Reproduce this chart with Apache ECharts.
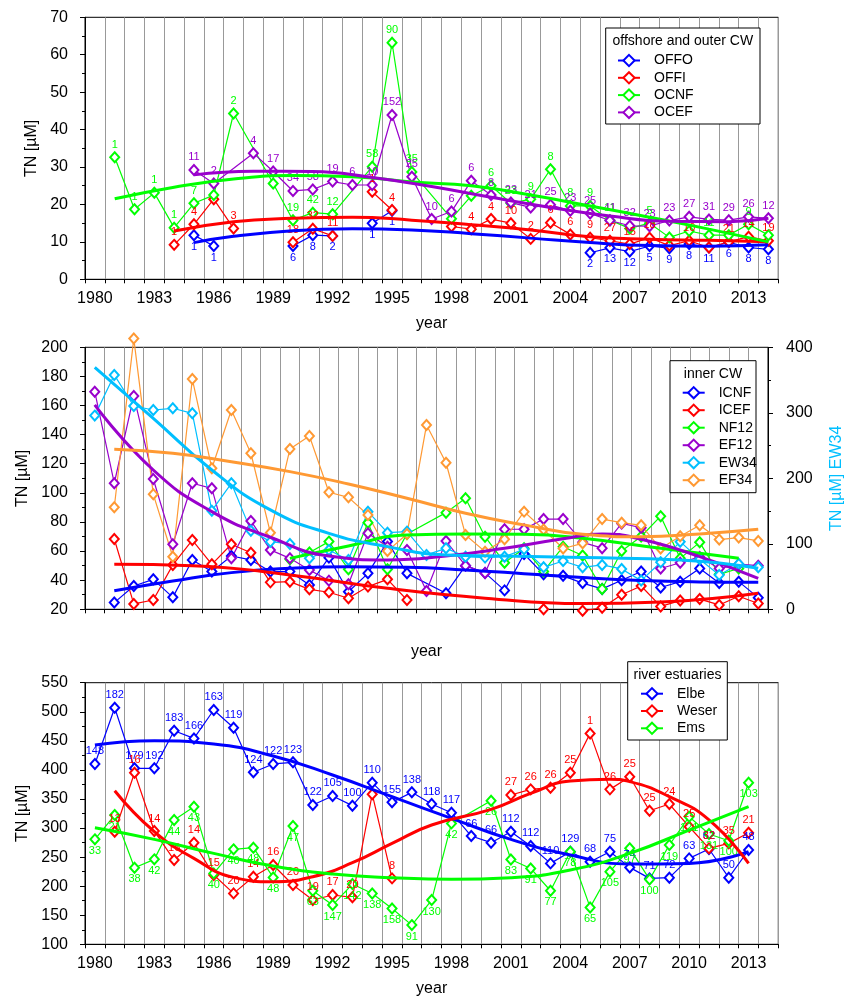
<!DOCTYPE html>
<html><head><meta charset="utf-8">
<script src="https://cdn.jsdelivr.net/npm/echarts@6/dist/echarts.min.js"></script>
<style>html,body{margin:0;padding:0;background:#fff}#c{width:853px;height:998px}</style>
</head><body><div id="c"></div>
<script>
const n = null;
const years = ['1980','1981','1982','1983','1984','1985','1986','1987','1988','1989','1990','1991','1992','1993','1994','1995','1996','1997','1998','1999','2000','2001','2002','2003','2004','2005','2006','2007','2008','2009','2010','2011','2012','2013','2014'];

// ---------- top panel: offshore and outer CW ----------
const OFFO = [n,n,n,n,n, 11.8,8.9,n,n,n, 8.9,11.8,11.6,n,15.0, 18.3,n,n,n,n, n,n,n,n,n, 7.1,8.4,7.4,8.9,8.3, 9.4,8.5,9.9,8.5,8.0];
const OFFO_n = [n,n,n,n,n, '1','1',n,n,n, '6','8','2',n,'1', '1',n,n,n,n, n,n,n,n,n, '2','13','12','5','9', '8','11','6','8','8'];
const OFFI = [n,n,n,n,9.2, 14.7,21.4,13.6,n,n, 9.9,13.5,11.6,n,23.4, 18.5,n,n,14.1,13.4, 16.1,15.0,10.8,15.1,12.0, 11.1,10.3,9.4,11.1,9.0, 10.3,8.5,10.0,11.4,10.3];
const OFFI_n = [n,n,n,n,'1', '4',n,'3',n,n, '18','32','11',n,'1', '4',n,n,n,'4', '4','10','2','6','6', '9','27','15','18',n, '10',n,'21','14','19'];
const OCNF = [n,32.6,18.7,23.1,13.8, 20.3,22.5,44.3,n,25.6, 15.8,17.8,17.4,n,30.1, 63.2,28.7,n,16.2,22.3, 25.0,20.3,21.4,29.4,19.6, 19.6,15.8,13.6,15.0,11.2, 12.9,11.8,11.8,14.7,11.8];
const OCNF_n = [n,'1','1','1','1', '7',n,'2',n,n, '19','42','12',n,'58', '90','35',n,n,n, '6','23','9','8','8', '9','11',n,'5',n, n,'11',n,'9',n];
const OCEF = [n,n,n,n,n, 29.2,25.6,n,33.7,28.8, 23.6,24.0,26.1,25.2,25.2, 43.9,27.4,16.1,18.1,26.3, 22.5,20.5,19.2,19.9,18.3, 17.6,15.7,14.3,14.2,15.7, 16.7,16.0,15.8,16.7,16.3];
const OCEF_n = [n,n,n,n,n, '11','2',n,'4','17', '34','58','19','6','10', '152','25','10','6','6', '8','23','21','25','23', '25','41','32','23','23', '27','31','29','26','12'];
const OFFO_fit = [['1985',9.8],['1987',11.5],['1990',13.0],['1993',13.5],['1996',13.2],['1999',12.2],['2002',11.0],['2005',9.8],['2008',9.0],['2011',8.8],['2014',9.2]];
const OFFI_fit = [['1984',12.9],['1987',15.4],['1990',16.3],['1993',16.6],['1996',15.8],['1999',14.6],['2002',13.2],['2005',11.4],['2008',10.7],['2011',10.4],['2014',10.0]];
const OCNF_fit = [['1981',21.5],['1984',24.6],['1987',26.8],['1990',27.7],['1993',27.4],['1996',26.0],['1999',25.0],['2002',22.5],['2005',19.6],['2008',16.6],['2011',13.4],['2014',10.0]];
const OCEF_fit = [['1985',27.9],['1988',28.9],['1991',28.8],['1994',27.2],['1997',24.8],['2000',21.9],['2003',19.2],['2006',16.9],['2009',15.5],['2012',15.4],['2014',16.3]];

// ---------- middle panel: inner CW ----------
const ICNF = [n,24.6,36.0,40.6,28.2, 53.9,45.9,56.6,53.9,45.9, 45.9,36.7,55.5,32.1,44.7, 66.5,44.7,n,31.0,50, 45,33,58,44,43, 38,34,40,46,35, 39,48,38,39,28];
const ICEF = [n,68.3,23.7,26.4,50.5, 67.6,50.9,64.7,58.9,38.5, 39.0,33.7,31.7,27.6,35.6, 40.6,26.4,n,n,n, n,n,n,20,n, 19,21,30,36,22, 26,27,23,29,24];
const NF12 = [n,n,n,n,n, n,n,n,n,n, 54.3,59,66.5,47.5,79.5, 47.5,71.8,n,86.4,96.3, 69.9,52,62,46,63, 57,34,60,70,84, 55,66,44,48,n];
const EF12 = [169.5,106.6,166.6,109.5,64.7, 106.6,103.1,55,80.7,60.8, 55.0,47.0,39.7,37.2,72.2, 63.0,60.8,32.6,66.9,50, 45,75,75,82,82, 66,62,79,76,48, 52,56,48,51,50];
const EW34 = [295.7,357.8,310.4,304.3,306.9, 299.2,150.6,192.4,120.1,103.3, 99.7,77.9,90.6,75.3,149.1, 117.0,118.6,83.0,93.1,80.4, 78.9,80.4,91.6,64.1,73.8, 64.1,67.7,61.6,43.8,71.8, 103.3,76.3,52.4,69.2,64.1];
const EF34 = [n,90.1,206,99,56.1, 178.2,116.9,156.9,127.2,72.6, 130.1,139.1,100.4,96.9,84.8, 60.0,71.7,146.6,120.7,71.1, 59.6,68.1,87.1,74.8,61.8, 65.3,82,79.5,77.7,61.7, 70.2,77.7,67.9,69.3,67];
const ICNF_fit = [['1981',32.8],['1984',39.5],['1987',45.2],['1990',48.2],['1993',49.3],['1996',48.9],['1999',47.0],['2002',44.5],['2005',41.8],['2008',39.8],['2011',38.8],['2014',38.5]];
const ICEF_fit = [['1981',50.9],['1985',50.0],['1990',43.6],['1995',34.4],['2000',27.6],['2005',23.9],['2009',25.0],['2014',31.0]];
const NF12_fit = [['1990',55.0],['1993',63.5],['1996',71.1],['1999',71.8],['2002',71.5],['2005',68.8],['2009',61.9],['2013',55.0]];
const EF12_fit = [['1980',160.4],['1983',115.7],['1986',87.1],['1989',69.5],['1992',56.6],['1995',53.9],['1998',56.6],['2001',61.9],['2004',68.5],['2006',71.8],['2008',68.1],['2011',56.2],['2014',41.3]];
const EW34_fit = [['1980',369.5],['1983',291.6],['1986',212.7],['1989',151.7],['1992',116.0],['1995',95.7],['1998',83.0],['2001',81.4],['2005',78.9],['2010',75.3],['2014',62.6]];
const EF34_fit = [['1981',129.9],['1984',127.2],['1987',121.4],['1990',114.6],['1993',106.1],['1996',96.3],['1999',86.0],['2002',78.0],['2005',71.5],['2008',69.9],['2011',71.8],['2014',75.0]];

// ---------- bottom panel: river estuaries ----------
const Elbe = [410.2,507,402.7,402.7,467.4, 454.2,503,472.6,395.9,410.2, 413.1,339.7,355.2,338.5,378, 344.2,361.4,341.3,326.4,286.2, 274.8,293.7,269.1,239.2,259.3, 242.1,259.3,232.3,213.4,214.6, 247.8,263.9,214.6,262.2,n];
const Elbe_n = ['148','182','179','192','183', '166','163','119','124','122', '123','122','105','100','110', '155','138','118','117','66', '66','112','112','110','129', '68','75','74','71','72', '63','62','50','48',n];
const Weser = [n,293.6,395.2,294.8,244.9, 274.7,219.1,187.6,216.3,236.4, 202.0,176.2,184.8,180.8,358.3, 213.4,n,n,n,n, n,356.8,366.5,369.4,395.2, 462.8,366.5,388.3,329.8,341.3, 302.2,265.0,273.6,292.0,n];
const Weser_n = [n,'13','16','14','16', '14','15','20','14','16', '20','19','17','20',n, '8',n,n,n,n, n,'27','26','26','25', '1','26','25','25','24', '25','32','35','21',n];
const Ems = [280.5,322.4,231.8,246.1,313.8, 336.7,222,263.3,266.2,215.1, 303.4,192.1,167.5,203.6,187.5, 161.7,133.0,176.1,308,n, 346.9,245.9,230.5,192.1,259.3, 163.5,224.9,265.1,211.6,270.8, 319.5,289.7,278.2,377.9,n];
const Ems_n = ['33','21','38','42','44', '43','40','40','48','48', '47','63','147','142','138', '158','91','130','42',n, '26','83','91','77','78', '65','105','97','100','119', '121','131','100','103',n];
const Elbe_fit = [['1980',442.7],['1983',450.1],['1986',444.5],['1989',423.8],['1992',391.2],['1995',353.9],['1998',316.7],['2001',280.4],['2004',253.6],['2007',238.1],['2010',239.2],['2013',259.3]];
const Weser_fit = [['1981',364.2],['1983',293.7],['1985',247.8],['1987',215.1],['1989',207.6],['1991',216.3],['1993',240.3],['1995',273.6],['1997',305.2],['2000',332.1],['2002',359.6],['2004',380.9],['2006',384.0],['2007',379.8],['2009',354.0],['2011',313.9],['2013',239.2]];
const Ems_fit = [['1980',300.5],['1983',280.5],['1986',256.4],['1989',234.6],['1992',220.9],['1995',214.6],['1998',211.7],['2001',214.6],['2004',227.8],['2007',256.4],['2010',296.5],['2013',336.7]];

const COL = {blue:'#0000FF', red:'#FF0000', green:'#00FF00', purple:'#9900CC', cyan:'#00BFFF', orange:'#FF9933'};
const FONT = "'Liberation Sans', Arial, sans-serif";

function dataSeries(name, vals, labels, color, xi, yi, pos, connect) {
  return {
    type:'line', name, xAxisIndex:xi, yAxisIndex:yi,
    data: vals.map((v,i)=> v==null ? null : {value:v, label:{show: !!(labels && labels[i]), formatter: labels && labels[i] ? labels[i] : ''}}),
    symbol:'emptyDiamond', symbolSize:[9,10], connectNulls: !!connect, clip:false,
    lineStyle:{width:1.2, color}, itemStyle:{color, borderWidth:1.5},
    label:{show:false, position:pos||'top', distance: pos==='bottom'?0:1, color, fontSize:11, fontFamily:FONT},
    emphasis:{disabled:true}, z:3
  };
}
function fitSeries(name, pairs, color, xi, yi) {
  return {type:'line', name:name+' fit', xAxisIndex:xi, yAxisIndex:yi, data:pairs, smooth:0.5,
    showSymbol:false, symbol:'none', lineStyle:{width:3, color}, itemStyle:{color}, emphasis:{disabled:true}, z:4, clip:false};
}
function xAx(gi, showLabels) {
  return {type:'category', gridIndex:gi, data:years, boundaryGap:true,
    axisLine:{lineStyle:{color:'#000', width:1}},
    axisTick:{show:true, interval:0, length:4, lineStyle:{color:'#000'}},
    axisLabel:{show:showLabels, interval:2, fontSize:16, color:'#000', margin:11, fontFamily:FONT},
    splitLine:{show:true, interval:0, lineStyle:{color:'#999', width:1}},
    name:'year', nameLocation:'middle', nameGap: showLabels?36:34, nameTextStyle:{fontSize:16, color:'#000', fontFamily:FONT}};
}
function yAx(gi, min, max, interval, opts) {
  return Object.assign({type:'value', gridIndex:gi, min, max, interval,
    axisLine:{show:true, lineStyle:{color:'#000'}},
    axisTick:{show:true, length:5, lineStyle:{color:'#000'}},
    minorTick:{show:true, splitNumber:2, length:3, lineStyle:{color:'#000'}},
    axisLabel:{fontSize:16, color:'#000', margin:17, fontFamily:FONT},
    splitLine:{show:false},
    name:'TN [µM]', nameLocation:'middle', nameRotate:90, nameGap:37,
    nameTextStyle:{fontSize:16, color:'#000', fontFamily:FONT}}, opts||{});
}
function legendBox(x, y, w, h, title) {
  return [
    {type:'rect', shape:{x, y, width:w, height:h}, style:{fill:'#fff', stroke:'#000', lineWidth:1}, z:10},
    {type:'text', x:x+w/2, y:y+13.5, style:{text:title, fill:'#000', font:'14px '+FONT, textAlign:'center', textVerticalAlign:'middle'}, z:11}
  ];
}
function legend(names, left, top, gap) {
  return {data:names, orient:'vertical', left, top, itemWidth:22, itemHeight:14, itemGap:gap, z:12,
    selectedMode:false,
    formatter: nm => '{a|' + nm + '}',
    textStyle:{color:'#000', fontSize:14, fontFamily:FONT, rich:{a:{fontSize:14, fontFamily:FONT, padding:[0,0,0,9], color:'#000'}}}};
}

const gridBase = {left:85, width:693.3, show:true, borderColor:'#000', borderWidth:1, backgroundColor:'transparent'};
const option = {
  animation:false,
  textStyle:{fontFamily:FONT},
  grid:[Object.assign({top:17.3, height:262}, gridBase), Object.assign({top:347.3, height:262}, gridBase), Object.assign({top:682.7, height:261.6}, gridBase)],
  xAxis:[xAx(0,true), xAx(1,false), xAx(2,true)],
  yAxis:[
    yAx(0,0,70,10),
    yAx(1,20,200,20,{nameGap:50}),
    yAx(1,0,400,100,{position:'right', name:'TN [µM] EW34', nameGap:61, nameTextStyle:{fontSize:16, color:COL.cyan, fontFamily:FONT}, axisLabel:{fontSize:16, color:'#000', margin:18, fontFamily:FONT}}),
    yAx(2,100,550,50,{nameGap:50})
  ],
  legend:[
    legend(['OFFO','OFFI','OCNF','OCEF'], 612, 48.5, 3.3),
    legend(['ICNF','ICEF','NF12','EF12','EW34','EF34'], 676.7, 380.7, 3.5),
    legend(['Elbe','Weser','Ems'], 635, 681.7, 3.3)
  ],
  graphic:[].concat(legendBox(605.7,28,154.3,96,'offshore and outer CW'), legendBox(670,360.7,86,132,'inner CW'), legendBox(627.7,661.7,99.6,78.3,'river estuaries')),
  series:[
    dataSeries('OFFO', OFFO, OFFO_n, COL.blue, 0,0,'bottom'),
    dataSeries('OFFI', OFFI, OFFI_n, COL.red, 0,0,'top'),
    dataSeries('OCNF', OCNF, OCNF_n, COL.green, 0,0,'top', true),
    dataSeries('OCEF', OCEF, OCEF_n, COL.purple, 0,0,'top', true),
    fitSeries('OFFO', OFFO_fit, COL.blue, 0,0),
    fitSeries('OFFI', OFFI_fit, COL.red, 0,0),
    fitSeries('OCNF', OCNF_fit, COL.green, 0,0),
    fitSeries('OCEF', OCEF_fit, COL.purple, 0,0),

    dataSeries('ICNF', ICNF, null, COL.blue, 1,1,'top', true),
    dataSeries('ICEF', ICEF, null, COL.red, 1,1,'top'),
    dataSeries('NF12', NF12, null, COL.green, 1,1,'top', true),
    dataSeries('EF12', EF12, null, COL.purple, 1,1,'top'),
    dataSeries('EW34', EW34, null, COL.cyan, 1,2,'top'),
    dataSeries('EF34', EF34, null, COL.orange, 1,1,'top'),
    fitSeries('ICNF', ICNF_fit, COL.blue, 1,1),
    fitSeries('ICEF', ICEF_fit, COL.red, 1,1),
    fitSeries('NF12', NF12_fit, COL.green, 1,1),
    fitSeries('EF12', EF12_fit, COL.purple, 1,1),
    fitSeries('EW34', EW34_fit, COL.cyan, 1,2),
    fitSeries('EF34', EF34_fit, COL.orange, 1,1),

    dataSeries('Elbe', Elbe, Elbe_n, COL.blue, 2,3,'top'),
    dataSeries('Weser', Weser, Weser_n, COL.red, 2,3,'top'),
    dataSeries('Ems', Ems, Ems_n, COL.green, 2,3,'bottom', true),
    fitSeries('Elbe', Elbe_fit, COL.blue, 2,3),
    fitSeries('Weser', Weser_fit, COL.red, 2,3),
    fitSeries('Ems', Ems_fit, COL.green, 2,3)
  ]
};
const chart = echarts.init(document.getElementById('c'), null, {renderer:'canvas'});
chart.setOption(option);
</script></body></html>
